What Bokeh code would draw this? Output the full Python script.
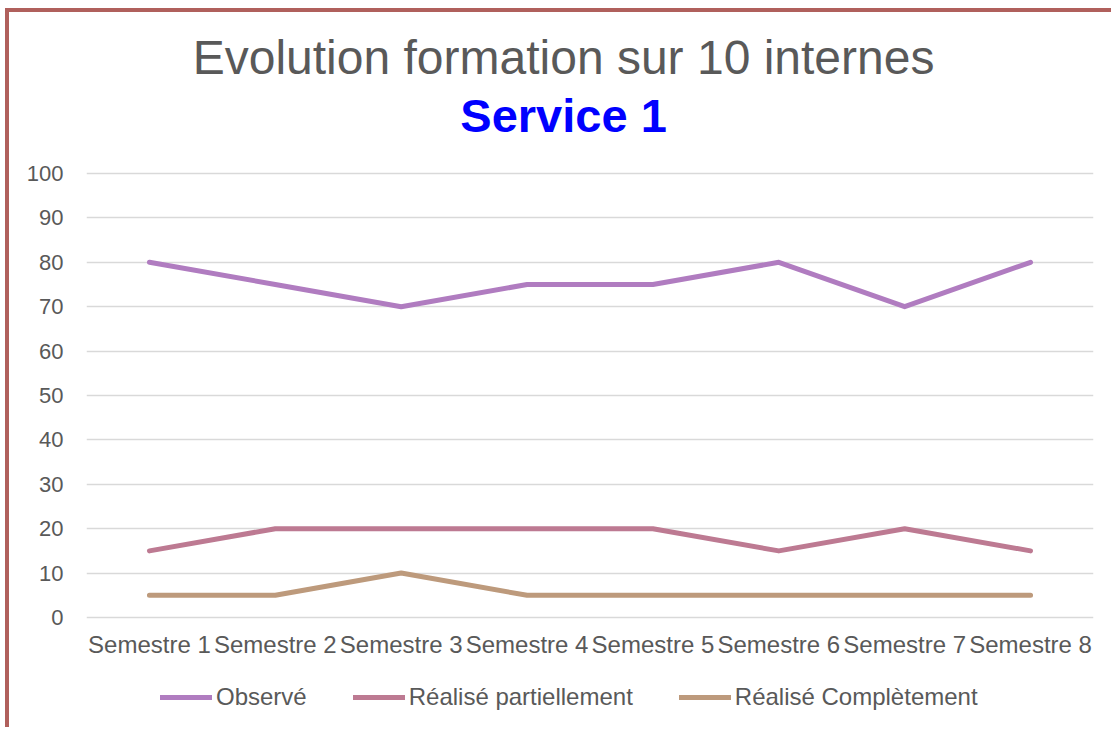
from bokeh.plotting import figure
from bokeh.models import Range1d, FactorRange, Legend, LegendItem, Label, ColumnDataSource, FixedTicker
from bokeh.embed import file_html
from bokeh.resources import INLINE

categories = ["Semestre 1", "Semestre 2", "Semestre 3", "Semestre 4",
              "Semestre 5", "Semestre 6", "Semestre 7", "Semestre 8"]
observe = [80, 75, 70, 75, 75, 80, 70, 80]
partiel = [15, 20, 20, 20, 20, 15, 20, 15]
complet = [5, 5, 10, 5, 5, 5, 5, 5]
series_names = ["Observé", "Réalisé partiellement", "Réalisé Complètement"]
colors = ["#B07CC0", "#BD7A92", "#BD9A7C"]
y_ticks = list(range(0, 101, 10))
title_text = "Evolution formation sur 10 internes"
subtitle_text = "Service 1"

FONT = "Liberation Sans"
TXT = "#595959"

# frame covers the full canvas height; value range chosen so 0..100 sits where the reference plot area is
p = figure(width=1106, height=719, x_range=FactorRange(*categories, range_padding=0),
           y_range=Range1d(-25.68, 136.26), output_backend="svg", toolbar_location=None,
           title=None, min_border_left=77, min_border_right=22,
           min_border_top=0, min_border_bottom=0,
           styles={"border-left": "4px solid #B0605C", "border-top": "4px solid #B0605C",
                   "margin-left": "5px", "margin-top": "8px"})

p.add_layout(Label(x=3.79, y=126.1, text=title_text, text_align="center", text_baseline="middle",
                   text_font=FONT, text_font_size="48px", text_color=TXT))
p.add_layout(Label(x=3.79, y=113.0, text=subtitle_text, text_align="center", text_baseline="middle",
                   text_font=FONT, text_font_size="47px", text_font_style="bold", text_color="#0000FF"))

renderers = []
for vals, c in zip([observe, partiel, complet], colors):
    src = ColumnDataSource(dict(x=categories, y=vals))
    r = p.line("x", "y", source=src, line_color=c, line_width=5,
               line_cap="round", line_join="round")
    renderers.append(r)

legend = Legend(items=[LegendItem(label=n, renderers=[r]) for n, r in zip(series_names, renderers)],
                orientation="horizontal", location=(74, 20),
                label_text_font=FONT, label_text_font_size="24px", label_text_color=TXT,
                glyph_width=52, label_standoff=4, spacing=46, padding=0, margin=0,
                border_line_color=None, background_fill_alpha=0)
p.add_layout(legend, "center")

p.xaxis.fixed_location = 0
p.xaxis.axis_line_color = None
p.xaxis.major_tick_line_color = None
p.xaxis.minor_tick_line_color = None
p.xaxis.major_label_text_font = FONT
p.xaxis.major_label_text_font_size = "24px"
p.xaxis.major_label_text_color = TXT
p.xaxis.major_label_standoff = 8

ticker = FixedTicker(ticks=y_ticks)
p.yaxis.ticker = ticker
p.ygrid.ticker = ticker
p.yaxis.axis_line_color = None
p.yaxis.major_tick_line_color = None
p.yaxis.minor_tick_line_color = None
p.yaxis.major_label_text_font = FONT
p.yaxis.major_label_text_font_size = "22px"
p.yaxis.major_label_text_color = TXT
p.yaxis.major_label_standoff = 17

p.xgrid.grid_line_color = None
p.ygrid.grid_line_color = "#D9D9D9"
p.ygrid.grid_line_width = 1.5
p.outline_line_color = None

open("out.html", "w").write(file_html(p, INLINE))
